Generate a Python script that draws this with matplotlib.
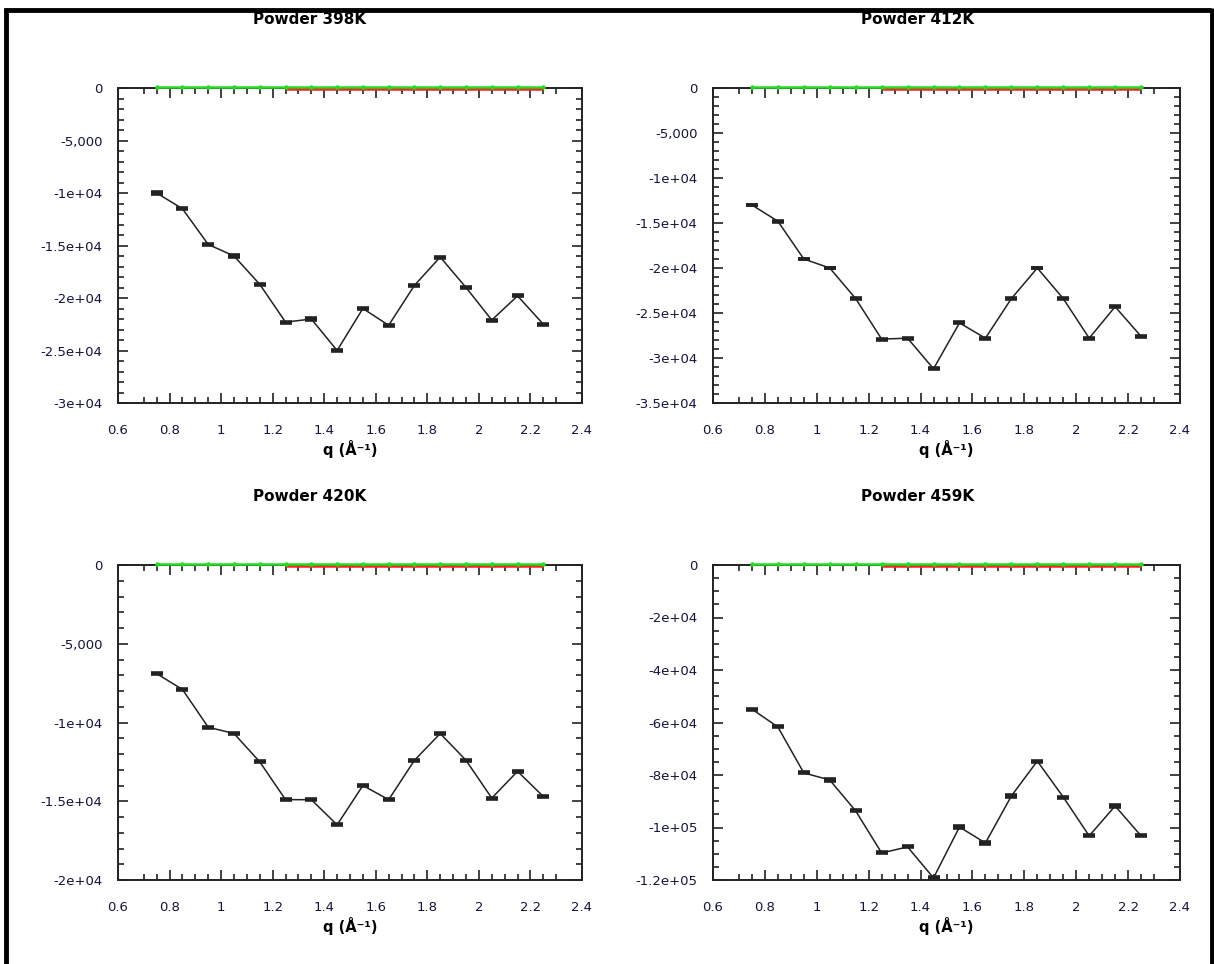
import numpy as np
import matplotlib
matplotlib.use("Agg")
import matplotlib.pyplot as plt
from matplotlib.ticker import FixedLocator, MultipleLocator, FuncFormatter
from matplotlib.lines import Line2D
import matplotlib.transforms as mtransforms

plt.rcParams['font.family'] = ['DejaVu Sans']

# q values (Å^-1)
q = [0.75, 0.85, 0.95, 1.05, 1.15, 1.25, 1.35, 1.45,
     1.55, 1.65, 1.75, 1.85, 1.95, 2.05, 2.15, 2.25]

titles = ["Powder 398K", "Powder 412K", "Powder 420K", "Powder 459K"]

y_398 = [-10000, -11500, -14900, -16000, -18700, -22300, -22000, -25000,
         -21000, -22600, -18800, -16100, -19000, -22100, -19800, -22500]
y_412 = [-13000, -14800, -19000, -20000, -23400, -27900, -27800, -31200,
         -26100, -27800, -23400, -20000, -23400, -27800, -24300, -27600]
y_420 = [-6900, -7900, -10300, -10700, -12500, -14900, -14900, -16500,
         -14000, -14900, -12400, -10700, -12400, -14800, -13100, -14700]
y_459 = [-54900, -61700, -79200, -81900, -93700, -109700, -107400, -119200,
         -99800, -105900, -88000, -74700, -88400, -103200, -91800, -103200]

err_398 = [50] * 16
err_412 = [50] * 16
err_420 = [30] * 16
err_459 = [200] * 16

# near-zero companion series drawn along the top of each panel
green_q = q
green_vals = [0.0] * 16
red_q = q[5:]
red_vals = [0.0] * 11

# y-axis settings per panel: (bottom, major step, minor step)
y_ranges = [(-30000, 5000, 1000), (-35000, 5000, 1000),
            (-20000, 5000, 1000), (-120000, 20000, 5000)]

series = [(y_398, err_398), (y_412, err_412), (y_420, err_420), (y_459, err_459)]

W, H = 1214, 964
fig = plt.figure(figsize=(W / 100, H / 100), dpi=100)

# axes boxes in pixel units (left, right, top, bottom) and title centres
boxes = [(118, 582, 88, 403), (713, 1180, 88, 403),
         (118, 582, 565, 880), (713, 1180, 565, 880)]
title_pos = [(310, 20), (918, 20), (310, 497), (918, 497)]


def fmt_label(v, pos=None):
    if v == 0:
        return "0"
    if abs(v) < 10000:
        return f"{int(v):,}"
    s = f"{v:.1e}"
    mant, exp = s.split("e")
    mant = mant.rstrip("0").rstrip(".")
    e = int(exp)
    return f"{mant}e{'+' if e >= 0 else '-'}{abs(e):02d}"


label_color = "#14143c"

for i, ((yv, ev), (l, r, t, b)) in enumerate(zip(series, boxes)):
    ax = fig.add_axes([l / W, 1 - b / H, (r - l) / W, (b - t) / H])
    ybot, ymaj, ymin = y_ranges[i]
    ax.set_xlim(0.6, 2.4)
    ax.set_ylim(ybot, 0)

    ax.errorbar(q, yv, yerr=ev, color="#222222", lw=1.1, elinewidth=1.0,
                capsize=4.5, capthick=2.6, zorder=3)

    off_up = mtransforms.offset_copy(ax.transData, fig=fig, x=0, y=1.0, units='points')
    off_dn = mtransforms.offset_copy(ax.transData, fig=fig, x=0, y=-0.8, units='points')
    ax.plot(red_q, red_vals, color="#ff2020", lw=1.8, transform=off_dn,
            clip_on=False, zorder=4, solid_capstyle='butt')
    ax.plot(green_q, green_vals, color="#22dd22", lw=1.8, transform=off_up,
            clip_on=False, zorder=5, marker='o', ms=2.2, mec="#22dd22",
            solid_capstyle='butt')

    ax.xaxis.set_major_locator(MultipleLocator(0.2))
    ax.xaxis.set_minor_locator(FixedLocator(np.arange(0.7, 2.3001, 0.05)))
    ax.xaxis.set_major_formatter(FuncFormatter(lambda v, p: f"{v:.1f}".rstrip("0").rstrip(".")))
    ax.yaxis.set_major_locator(MultipleLocator(ymaj))
    ax.yaxis.set_minor_locator(MultipleLocator(ymin))
    ax.yaxis.set_major_formatter(FuncFormatter(fmt_label))

    ax.tick_params(which='both', direction='in', top=True, right=True,
                   colors="#222222", labelcolor=label_color, labelsize=9.5,
                   width=1.2)
    ax.tick_params(which='major', length=7)
    ax.tick_params(which='minor', length=4)
    ax.tick_params(axis='x', which='major', pad=15)
    ax.tick_params(axis='y', which='major', pad=11)
    for sp in ax.spines.values():
        sp.set_linewidth(1.4)
        sp.set_color("#222222")

    ax.set_xlabel("q (Å⁻¹)", fontsize=10.5, fontweight='bold', labelpad=2)

    tx, ty = title_pos[i]
    fig.text(tx / W, 1 - ty / H, titles[i], fontsize=11, fontweight='bold',
             ha='center', va='center')

# outer frame
frame_kw = dict(color="black", lw=3.5, transform=fig.transFigure, solid_capstyle='butt')
fig.add_artist(Line2D([4 / W, 1211 / W], [1 - 9.5 / H, 1 - 9.5 / H], **frame_kw))
fig.add_artist(Line2D([6 / W, 6 / W], [1 - 8 / H, 0], **frame_kw))
fig.add_artist(Line2D([1211.5 / W, 1211.5 / W], [1 - 8 / H, 0], **frame_kw))

fig.savefig("out.png", dpi=100)
